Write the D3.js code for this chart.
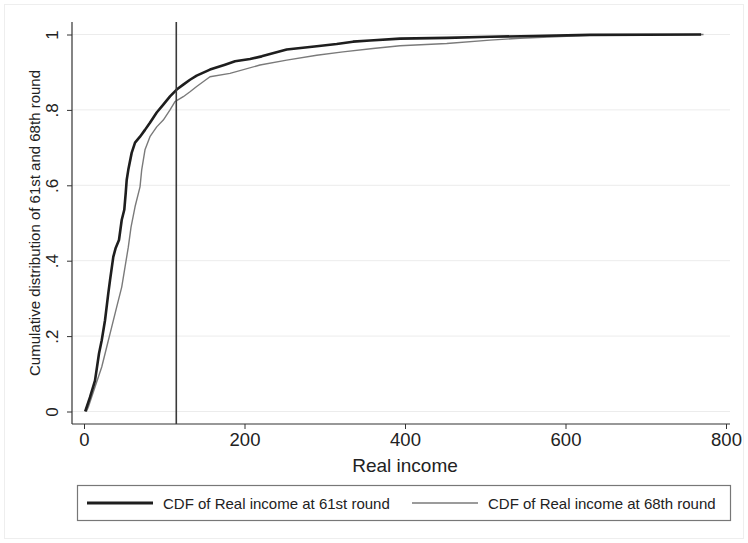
<!DOCTYPE html>
<html>
<head>
<meta charset="utf-8">
<script src="https://cdn.jsdelivr.net/npm/d3@7"></script>
<style>
  body { margin: 0; background: #fff; }
  svg text { font-family: "Liberation Sans", Arial, sans-serif; fill: #222; }
</style>
</head>
<body>
<div id="visContainer"></div>
<script>
// CDF of real income, 61st round
const income61 = [1.5, 7.5, 13.7, 18.7, 22.1, 26.2, 30.3, 32.4, 36.5, 39.5, 43.6, 47.0, 50.2, 52.0,
  53.2, 55.2, 59.4, 63.6, 69.8, 76.0, 82.2, 90.6, 98.8, 107.2, 115.5, 123.7, 132.1, 140.4, 157.0,
  175.7, 188.2, 206.9, 221.4, 252.6, 290.0, 314.9, 335.2, 356.4, 393.8, 452.0, 505.9, 560.0, 630.5, 769.0];
const cdf61 = [0.0, 0.038, 0.082, 0.154, 0.189, 0.242, 0.314, 0.348, 0.410, 0.434, 0.455, 0.508, 0.535, 0.580,
  0.614, 0.641, 0.686, 0.713, 0.729, 0.747, 0.766, 0.793, 0.814, 0.836, 0.854, 0.867, 0.880, 0.891, 0.907,
  0.920, 0.929, 0.935, 0.942, 0.960, 0.969, 0.975, 0.981, 0.984, 0.989, 0.991, 0.994, 0.996, 0.999, 1.0];

// CDF of real income, 68th round
const income68 = [3.0, 5.4, 13.7, 22.1, 28.3, 34.5, 40.7, 47.0, 51.1, 55.2, 58.6, 63.6, 69.8, 71.9, 76.0,
  82.2, 90.6, 98.8, 107.2, 113.4, 123.7, 132.1, 140.4, 157.0, 181.9, 219.3, 252.6, 290.0, 322.7, 360.1,
  393.8, 452.0, 505.9, 543.3, 630.0, 772.0];
const cdf68 = [0.0, 0.012, 0.065, 0.118, 0.171, 0.224, 0.277, 0.330, 0.383, 0.436, 0.489, 0.543, 0.596, 0.641, 0.694,
  0.729, 0.755, 0.773, 0.800, 0.822, 0.835, 0.848, 0.862, 0.888, 0.897, 0.919, 0.932, 0.945, 0.954, 0.963,
  0.970, 0.976, 0.985, 0.990, 0.998, 1.0];

const xTicks = [0, 200, 400, 600, 800];
const yTicks = [0, 0.2, 0.4, 0.6, 0.8, 1];
const yTickLabels = ["0", ".2", ".4", ".6", ".8", "1"];
const cutoff = 115;

const seriesNames = ["CDF of Real income at 61st round", "CDF of Real income at 68th round"];

const width = 748;
const height = 543;
const plot = { left: 72, right: 730, top: 22, bottom: 424 };

const svg = d3
  .select("#visContainer")
  .append("svg")
  .attr("width", width)
  .attr("height", height);

// faint outer graph region border
svg.append("rect")
  .attr("x", 4.5).attr("y", 4.5)
  .attr("width", width - 9).attr("height", height - 9)
  .attr("fill", "none")
  .attr("stroke", "#eeeeee");

const xScale = d3.scaleLinear().domain([0, 800]).range([84, 726]);
const yScale = d3.scaleLinear().domain([0, 1]).range([411.5, 34.5]);

// gridlines
svg.append("g")
  .selectAll("line")
  .data(yTicks)
  .join("line")
  .attr("x1", plot.left)
  .attr("x2", plot.right)
  .attr("y1", (d) => yScale(d))
  .attr("y2", (d) => yScale(d))
  .attr("stroke", "#ececec")
  .attr("stroke-width", 1);

// axes
const yAxis = svg.append("g")
  .attr("transform", `translate(${plot.left}, 0)`)
  .call(d3.axisLeft(yScale).tickValues(yTicks).tickSize(5).tickFormat((d, i) => yTickLabels[i]));
yAxis.select(".domain").remove();
yAxis.selectAll(".tick line").attr("stroke", "#333");
yAxis.selectAll(".tick text")
  .attr("font-size", 17)
  .attr("transform", "rotate(-90)")
  .attr("x", 0)
  .attr("y", -14)
  .attr("dy", 0)
  .attr("text-anchor", "middle");

const xAxis = svg.append("g")
  .attr("transform", `translate(0, ${plot.bottom})`)
  .call(d3.axisBottom(xScale).tickValues(xTicks).tickSize(5));
xAxis.select(".domain").remove();
xAxis.selectAll(".tick line").attr("stroke", "#333");
xAxis.selectAll(".tick text")
  .attr("font-size", 18.5)
  .attr("y", 8)
  .attr("dy", "0.75em");

svg.append("line")
  .attr("x1", plot.left).attr("x2", plot.left)
  .attr("y1", plot.top).attr("y2", plot.bottom)
  .attr("stroke", "#333").attr("stroke-width", 1.2);
svg.append("line")
  .attr("x1", plot.left).attr("x2", plot.right)
  .attr("y1", plot.bottom).attr("y2", plot.bottom)
  .attr("stroke", "#333").attr("stroke-width", 1.2);

// axis titles
svg.append("text")
  .attr("x", (84 + 726) / 2)
  .attr("y", 472)
  .attr("text-anchor", "middle")
  .attr("font-size", 19)
  .text("Real income");

svg.append("text")
  .attr("transform", `translate(40, ${(plot.top + plot.bottom) / 2}) rotate(-90)`)
  .attr("text-anchor", "middle")
  .attr("font-size", 15)
  .text("Cumulative distribution of 61st and 68th round");

// cdf lines
const line = d3.line()
  .x((d) => xScale(d[0]))
  .y((d) => yScale(d[1]))
  .curve(d3.curveLinear);

svg.append("path")
  .datum(d3.zip(income68, cdf68))
  .attr("d", line)
  .attr("fill", "none")
  .attr("stroke", "#7a7a7a")
  .attr("stroke-width", 1.4)
  .attr("stroke-linejoin", "round");

svg.append("path")
  .datum(d3.zip(income61, cdf61))
  .attr("d", line)
  .attr("fill", "none")
  .attr("stroke", "#1e1e1e")
  .attr("stroke-width", 2.6)
  .attr("stroke-linejoin", "round");

// vertical reference line
svg.append("line")
  .attr("x1", xScale(cutoff)).attr("x2", xScale(cutoff))
  .attr("y1", plot.top).attr("y2", plot.bottom)
  .attr("stroke", "#3a3a3a")
  .attr("stroke-width", 1.6);

// legend
const legend = svg.append("g");
legend.append("rect")
  .attr("x", 77.5).attr("y", 485.5)
  .attr("width", 653).attr("height", 35)
  .attr("fill", "#fff")
  .attr("stroke", "#777")
  .attr("stroke-width", 1.2);

const legendItems = [
  { name: seriesNames[0], x: 87, color: "#1e1e1e", w: 2.8 },
  { name: seriesNames[1], x: 412, color: "#7a7a7a", w: 1.3 },
];
legendItems.forEach((d) => {
  legend.append("line")
    .attr("x1", d.x).attr("x2", d.x + 66)
    .attr("y1", 503).attr("y2", 503)
    .attr("stroke", d.color)
    .attr("stroke-width", d.w);
  legend.append("text")
    .attr("x", d.x + 76)
    .attr("y", 508.5)
    .attr("font-size", 15)
    .text(d.name);
});
</script>
</body>
</html>
